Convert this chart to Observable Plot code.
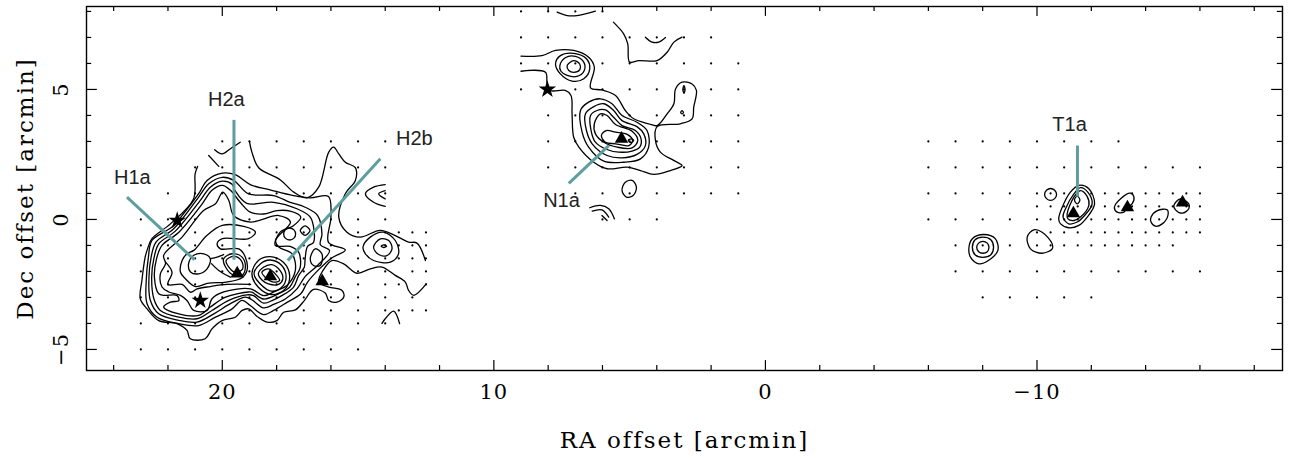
<!DOCTYPE html>
<html><head><meta charset="utf-8">
<style>
html,body{margin:0;padding:0;background:#fff}
[aria-label="x-axis tick label"],[aria-label="y-axis tick label"]{letter-spacing:1px}
[aria-label="x-axis label"],[aria-label="y-axis label"]{letter-spacing:2px;font-size:23px}
</style>
<script src="https://cdn.jsdelivr.net/npm/d3@7"></script>
<script src="https://cdn.jsdelivr.net/npm/@observablehq/plot@0.6"></script>
</head><body><div id="chart"></div>
<script>
// Axis ticks (arcmin)
const xMajor=[20,10,0,-10];
const xMinor=[24,22,18,16,14,12,8,6,4,2,-2,-4,-6,-8,-12,-14,-16,-18];
const yMajor=[5,0,-5];
const yMinor=[8,7,6,4,3,2,1,-1,-2,-3,-4];

// Sampled positions: [dec, [ra...]]
const ints2314=[23,22,21,20,19,18,17,16,15,14];
const tailH=[13.5,13,12.5];
const tHalf=[-10,-10.5,-11,-11.5,-12,-12.5,-13,-13.5,-14,-14.5,-15,-15.5,-16];
const gridRows=[
 [3,[20,19,18,17,16,15,14]],
 [2,[21,20,19,18,17,16,15,14]],
 [1,[22,21,20,19,18,17,16,15,14]],
 [0,ints2314],
 [-0.5,[21,20,19,18,17,16,15,14,...tailH]],
 [-1,[...ints2314,13.5,13,12.5]],
 [-1.5,[22,21,20,19,18,17,16,15,14,...tailH]],
 [-2,[...ints2314,13,12.5]],
 [-2.5,[22,21,20,19,18,17,16,15,14,13.5,12.5]],
 [-3,[...ints2314,13]],
 [-3.5,[19,18,17,16,15,14,...tailH]],
 [-4,ints2314],
 [-5,[23,22,21,20,19,18,17,16,15]],
 [8,[9,8,7,6]],
 [7,[9,8,7,6,5,4,3,2]],
 [6,[9,8,7,6,5,4,3,2,1]],
 [5,[9,8,7,6,5,4,3,2,1]],
 [4,[8,7,6,5,4,3,2,1]],
 [3,[8,7,6,5,4,3,2,1]],
 [2,[8,7,6,5,4,3,2,1]],
 [1,[7,6,5,4,3,2,1]],
 [0,[6,5,4]],
 [3,[-6,-7,-8,-9,-10,-11,-12,-13]],
 [2,[-6,-7,-8,-9,-10,-11,-12,-13,-14,-15,-16]],
 [1,[-6,-7,-8,-9,...tHalf]],
 [0.5,tHalf],
 [0,[-6,-7,-8,-9,...tHalf]],
 [-0.5,tHalf],
 [-1,[-7,-8,-9,-10,-10.5,-11,-11.5,-12,-12.5,-13,-13.5,-14,-14.5,-15]],
 [-2,[-7,-8,-9,-10,-11,-12,-13,-14,-15,-16]],
 [-3,[-8,-9,-10,-11,-12]]
];

// Open contour lines [ra, dec]
const hOuter=[[19,3],[18.91,2.59],[18.66,1.99],[17.86,1.52],[17.37,1.05],[16.88,.83],[16.45,1.24],[16.08,2.59],[15.9,2.78],[15.71,2.52],[15.47,2.2],[15.1,1.99],[15.1,1.5],[15.47,.99],[15.71,.09],[15.41,-.49],[14.92,-.68],[14.18,-.42],[13.63,-.62],[13.14,-.87],[12.83,-.91],[12.52,-1.58]];
const hOuterLow=[[12.49,-2.48],[12.95,-2.92],[13.14,-2.73],[13.26,-2.41],[13.63,-2.15],[14.12,-1.83],[14.55,-1.9],[15.04,-2.07],[15.53,-1.71],[15.96,-1.58],[16.21,-1.83],[16.45,-2.41],[16.08,-2.6],[15.59,-2.73],[15.53,-2.99],[15.78,-3.18],[16.08,-3.12],[16.21,-2.83],[16.64,-2.69],[16.98,-3.12],[17.31,-3.48],[17.74,-3.57],[17.99,-3.89],[18.35,-3.95],[18.72,-3.73],[19.03,-3.44],[19.27,-3.5],[19.52,-3.76],[20.01,-3.89],[20.38,-4.21],[20.63,-4.59],[21.18,-4.59],[21.3,-4.27],[21.67,-4.01],[22.34,-3.89],[22.77,-3.44],[23.02,-3.05],[22.96,-2.35],[22.84,-1.45],[22.77,-1.19],[22.59,-.74],[21.91,-.17],[21.06,.79],[21,1.75],[20.91,2.04]];
const hTopA=[[20.5,2.46],[20.13,2.04]];
const hTopB=[[20.28,2.68],[20.01,2.52],[19.7,2.72],[19.34,2.97]];
const hArcA=[[14,1.34],[14.43,1.24],[14.73,.99],[14.43,.66],[14,.5]];
const hArcB=[[14,1.11],[14.24,.99],[14,.79]];
const hSmall=[[14.12,-4],[14,-3.82],[13.69,-3.53],[13.47,-4.01]];
const hInner=[[22.09,-1.64],[21.85,-2.03],[22,-2.5],[21.48,-2.5],[21.17,-2.8],[20.93,-2.67],[20.44,-2.58],[19.82,-2.5],[18.96,-2.5]];
const hLink=[[20.44,-1.51],[20.19,-1.45],[19.95,-1.35]];
const hLinkB=[[20.4,-1.7],[20.13,-1.96],[19.7,-2.22]];
const nTop=[[7.67,7.97],[7.3,7.84],[6.94,7.84],[6.26,8.01]];
const nRidge=[[5.6,7.59],[5.22,7.14],[5.07,6.75],[5,6.05],[4.66,6.11],[3.99,6.11],[3.62,6.43],[3.37,6.82],[3.07,7.01]];
const nCup=[[4.42,7.01],[4.17,6.82],[3.93,6.82],[3.68,7]];
const nMain=[[9,6.28],[8.23,6.3],[7.73,6.5],[7.06,6.5],[6.51,6.24],[6.3,5.86],[6.44,5.06],[6.02,4.98],[5.52,4.77],[5.16,4.19],[4.85,3.87],[4.3,3.68],[3.99,3.61],[3.62,4.06],[3.37,4.45],[3.31,5.02],[3.07,5.28],[2.7,5.21],[2.54,4.96],[2.64,4.32],[2.7,3.87],[3.13,3.68],[3.99,3.57],[4.05,3.04],[3.87,2.59],[3.38,2.27],[3.07,2.07],[3.5,1.88],[4.11,1.73],[4.6,1.88],[5.09,2.01],[5.83,1.95],[6.32,2.2],[6.87,2.78],[7.06,3.16],[7.12,4.06],[7.16,4.77],[7.37,4.96],[7.92,4.96],[8.04,5.21],[8.1,5.66],[9,5.7]];
const nBotA=[[6.47,.45],[6.08,.54],[5.77,.41],[5.56,.02]];
const nBotB=[[6.38,.32],[6.02,.37],[5.77,.09]];
const nBotC=[[6.02,.15],[5.83,-.04]];

// Closed contour lines [ra, dec]
const hC2=[[22.77,-3.24],[22.8,-2.35],[22.72,-1.45],[22.59,-.81],[21.85,-.29],[21.48,.15],[20.87,.99],[20.56,1.5],[20,1.78],[19.52,1.72],[18.97,1.34],[18.24,1.14],[17.38,.92],[16.76,.83],[16.09,.88],[16,.09],[16.09,-.88],[15.47,-1.17],[15.97,-1.48],[16.46,-1.94],[16.86,-2.41],[17.11,-2.86],[17.6,-3.18],[18.11,-3.5],[18.48,-3.66],[18.97,-3.31],[19.27,-3.11],[19.64,-3.44],[20.25,-3.76],[20.87,-4.08],[21.6,-4.01],[22.4,-3.76]];
const hC3=[[22.65,-3.11],[22.7,-2.22],[22.62,-1.45],[22.44,-.87],[21.79,-.36],[20.87,.86],[20.5,1.37],[20,1.62],[19.58,1.5],[19.03,.98],[18.11,.92],[17.5,.66],[16.95,.47],[16.49,.15],[16.33,-.56],[16.39,-.97],[16.05,-1.2],[16.49,-1.77],[16.95,-2.2],[17.25,-2.67],[17.68,-3.06],[18.11,-3.27],[18.48,-3.4],[18.91,-3.09],[19.15,-2.99],[19.7,-3.24],[20.31,-3.63],[20.93,-3.95],[21.6,-3.88],[22.34,-3.63]];
const hC4=[[22.52,-3.05],[22.6,-2.22],[22.52,-1.51],[22.34,-.94],[21.73,-.45],[20.81,.73],[20.44,1.24],[20,1.47],[19.64,1.35],[19.53,1.11],[19.1,.62],[18.11,.66],[17.25,.41],[16.76,.09],[16.62,-.43],[16.64,-.88],[16.86,-1.04],[16.95,-1.52],[16.98,-1.84],[17.19,-2.16],[17.38,-2.61],[17.81,-2.93],[18.11,-3.09],[18.48,-3.22],[18.85,-2.93],[19.09,-2.9],[19.76,-3.11],[20.38,-3.5],[20.93,-3.82],[21.6,-3.76],[22.28,-3.5]];
const hC5=[[22.34,-2.86],[22.5,-2.22],[22.42,-1.51],[22.22,-1],[21.6,-.49],[20.74,.6],[20.38,1.12],[20,1.31],[19.7,1.12],[19.34,.66],[18.97,.28],[18.48,.21],[17.99,.34],[17.5,.32],[17.11,.09],[17.38,-.24],[17.87,-.49],[18.05,-1],[17.5,-1.04],[17.19,-1.26],[17.13,-1.84],[17.32,-2.22],[17.52,-2.61],[17.93,-2.86],[18.48,-3.06],[18.91,-2.8],[19.03,-2.79],[19.88,-2.99],[20.44,-3.37],[20.87,-3.69],[21.6,-3.63],[22.16,-3.37],[21.91,-3.18],[21.6,-3.12],[21.67,-2.92],[22.16,-2.92]];
const hC6=[[18.96,-2.67],[19.95,-2.79],[20.38,-3.05],[20.56,-3.5],[21.05,-3.5],[21.3,-3.12],[21.54,-2.92],[21.97,-2.79],[22.22,-2.6],[22.28,-2.09],[22.09,-1.7],[22.16,-1.38],[21.48,-.68],[20.68,.35],[20.25,.6],[19.98,1.05],[19.76,.73],[19.58,.15],[18.96,-.1],[17.92,.15],[17.49,-.1],[18.04,-.81],[17.92,-1.06],[17.43,-1.32],[17.31,-1.96],[17.62,-2.54],[18.05,-2.76],[18.48,-2.93]];
const hC7=[[21.05,-1.19],[20.56,-.61],[20,-.23],[19.21,-.27],[18.78,-.49],[19.03,-.74],[20,-.74],[20.19,-.94],[20.07,-1.13],[19.39,-1.13],[19.15,-1.45],[19.09,-1.96],[19.27,-2.24],[19.85,-2.41],[20.5,-2.45],[20.99,-2.58],[21.36,-2.28],[21.54,-2.03],[21.48,-1.58],[21.3,-1.32]];
const hH1=[[21.24,-1.7],[21.05,-1.38],[20.68,-1.32],[20.44,-1.51],[20.56,-1.9],[20.87,-2.09],[21.17,-2.02]];
const hL1=[[19.95,-1.51],[19.64,-1.32],[19.27,-1.45],[19.15,-1.83],[19.27,-2.15],[19.58,-2.15],[19.88,-1.83]];
const hL2=[[19.86,-1.58],[19.58,-1.42],[19.3,-1.58],[19.25,-1.9],[19.52,-2.03],[19.76,-1.83]];
const hR1=[[18.91,-2.09],[18.67,-1.58],[18.24,-1.43],[17.75,-1.65],[17.52,-2.16],[17.68,-2.67],[18.18,-2.89],[18.67,-2.61]];
const hR2=[[18.83,-2.09],[18.6,-1.71],[18.24,-1.56],[17.81,-1.77],[17.65,-2.22],[17.81,-2.61],[18.18,-2.76],[18.6,-2.48]];
const hR3=[[18.67,-2.09],[18.48,-1.84],[18.18,-1.74],[17.87,-1.97],[17.77,-2.29],[17.93,-2.5],[18.3,-2.48],[18.54,-2.33]];
const hR4=[[18.54,-2.03],[18.3,-1.9],[17.99,-2.16],[17.89,-2.35],[18.11,-2.41],[18.42,-2.22]];
const hS1=[[17.3,-.56],[17.36,-.4],[17.52,-.33],[17.68,-.4],[17.74,-.56],[17.68,-.72],[17.52,-.79],[17.36,-.72]];
const hS2=[[16.77,-.43],[16.95,-.25],[17.13,-.43],[16.95,-.61]];
const hS3=[[16.76,-1.52],[16.58,-1.13],[16.33,-1.33],[16.39,-1.77],[16.64,-1.77]];
const hE1=[[14.82,-1.07],[14.55,-.68],[14.06,-.49],[13.63,-.81],[13.51,-1.32],[13.81,-1.64],[14.43,-1.58],[14.73,-1.32]];
const hE2=[[14.43,-1.07],[14.18,-.75],[13.87,-.81],[13.75,-1.13],[13.94,-1.39],[14.24,-1.35]];
const hE3=[[14.15,-1.03],[14.05,-.98],[13.95,-1.03],[14.05,-1.08]];
const nR2=[[6.81,4.19],[6.51,4.51],[6.08,4.64],[5.65,4.45],[5.28,4],[4.73,3.74],[4.36,3.42],[4.3,2.78],[4.6,2.33],[5.22,2.2],[5.95,2.24],[6.51,2.78],[6.75,3.36]];
const nR3=[[6.63,4.06],[6.32,4.34],[5.95,4.45],[5.59,4.19],[5.28,3.8],[4.73,3.57],[4.48,3.29],[4.42,2.84],[4.73,2.5],[5.28,2.37],[5.83,2.46],[6.38,2.91],[6.59,3.42]];
const nR4=[[6.44,4],[6.2,4.19],[5.89,4.21],[5.59,3.93],[5.28,3.61],[4.79,3.42],[4.58,3.1],[4.63,2.78],[4.91,2.63],[5.4,2.59],[5.89,2.71],[6.26,2.97],[6.42,3.42]];
const nR5=[[6.3,3.68],[6.08,4.06],[5.83,4],[5.52,3.65],[4.91,3.39],[4.7,3.04],[4.91,2.75],[5.46,2.78],[5.95,2.97],[6.26,3.29]];
const nR6=[[6.04,3.23],[5.86,3.42],[5.52,3.36],[5.09,3.27],[4.89,3.04],[5.03,2.84],[5.52,2.91],[5.89,2.97]];
const nA=[[7.73,5.98],[7.55,6.3],[7.06,6.39],[6.59,6.18],[6.47,5.79],[6.69,5.41],[7.12,5.32],[7.55,5.6]];
const nB=[[7.57,5.92],[7.37,6.22],[7,6.27],[6.69,6.05],[6.67,5.73],[6.94,5.5],[7.3,5.54],[7.53,5.7]];
const nC=[[7.3,5.92],[7.06,6.11],[6.84,5.98],[6.84,5.75],[7.06,5.66],[7.24,5.73]];
const nLobe1=[[3.04,5],[3,5.15],[2.96,5],[3,4.85]];
const nLobe2=[[3.12,4.12],[3.07,4.18],[3.02,4.12],[3.07,4.06]];
const nE=[[5.28,1.11],[5.16,1.43],[4.91,1.5],[4.75,1.24],[4.87,.92],[5.12,.86]];
const nDot=[[5.05,3.04],[4.95,3.1],[4.85,3.04],[4.95,2.96]];
const tA=[[-7.49,-1.13],[-7.61,-.75],[-8.04,-.58],[-8.47,-.75],[-8.56,-1.19],[-8.29,-1.52],[-7.86,-1.71],[-7.55,-1.45]];
const tB=[[-7.62,-1.07],[-7.72,-.78],[-8,-.68],[-8.3,-.78],[-8.4,-1.07],[-8.3,-1.36],[-8,-1.46],[-7.72,-1.36]];
const tC=[[-7.78,-1.07],[-7.85,-.91],[-8,-.84],[-8.17,-.91],[-8.23,-1.07],[-8.17,-1.24],[-8,-1.3],[-7.85,-1.24]];
const tD=[[-9.64,-.68],[-9.88,-.4],[-10.19,-.49],[-10.56,-.94],[-10.56,-1.13],[-10.19,-1.3],[-9.76,-1.13]];
const tE=[[-10.28,.96],[-10.35,1.12],[-10.5,1.19],[-10.65,1.12],[-10.72,.96],[-10.65,.8],[-10.5,.73],[-10.35,.8]];
const tF=[[-10.8,.02],[-10.93,.47],[-11.23,1.05],[-11.54,1.31],[-11.91,1.18],[-12.12,.6],[-11.85,.09],[-11.54,-.23],[-11.17,-.32],[-10.87,-.17]];
const tG=[[-10.96,.09],[-11.05,.41],[-11.36,.98],[-11.6,1.22],[-11.87,1.05],[-12.03,.6],[-11.75,.15],[-11.48,-.1],[-11.17,-.17]];
const tH=[[-11.11,.22],[-11.36,.86],[-11.6,1.11],[-11.85,.88],[-11.91,.54],[-11.6,.09],[-11.36,-.04],[-11.14,.02]];
const tI=[[-11.38,.75],[-11.48,.9],[-11.58,.75],[-11.48,.6]];
const tJ=[[-12.85,.47],[-13.07,.79],[-13.44,1.01],[-13.57,.86],[-13.5,.6],[-13.32,.47],[-13.2,.28],[-12.95,.28]];
const tK=[[-14.2,.09],[-14.43,.34],[-14.79,.37],[-14.82,.15],[-14.61,-.17],[-14.36,-.26],[-14.2,-.1]];
const tL=[[-15.04,.54],[-15.28,.79],[-15.59,.6],[-15.59,.41],[-15.35,.24],[-15.1,.37]];

// Sources and annotations
const triangleRA=[19.45,18.23,16.32,5.3,-11.34,-13.33,-15.36];
const triangleDec=[-2.08,-2.19,-2.38,3.1,.23,.46,.65];
const starRA=[21.66,20.81,8.03];
const starDec=[-.04,-3.12,5];
const labels=["H1a","H2a","H2b","N1a","T1a"];
const labelRA=[23.31,19.85,12.93,7.51,-11.2];
const labelDec=[1.62,4.62,3.12,.73,3.65];
const leaderFrom=[[23.51,.86],[19.57,3.83],[14.18,2.33],[7.24,1.39],[-11.49,2.84]];
const leaderTo=[[21.03,-1.55],[19.57,-1.55],[17.59,-1.58],[5.77,2.84],[-11.49,.88]];

const table=(paths)=>paths.flatMap((p,id)=>p.map(([ra,dec])=>({id,ra,dec})));
const openLines=table([hOuter,hOuterLow,hTopA,hTopB,hArcA,hArcB,hSmall,hInner,hLink,hLinkB,nTop,nRidge,nCup,nMain,nBotA,nBotB,nBotC]);
const closedLines=table([hC2,hC3,hC4,hC5,hC6,hC7,hH1,hL1,hL2,hR1,hR2,hR3,hR4,hS1,hS2,hS3,hE1,hE2,hE3,nR2,nR3,nR4,nR5,nR6,nA,nB,nC,nLobe1,nLobe2,nE,nDot,tA,tB,tC,tD,tE,tF,tG,tH,tI,tJ,tK,tL]);
const grid=gridRows.flatMap(([dec,ras])=>ras.map(ra=>({ra,dec})));
const decLo=-5.81,decHi=8.19,raLo=25,raHi=-19.04;
const ink="#000",serif="'DejaVu Serif',serif",sans="'Liberation Sans',Arial,sans-serif";
const lineW=1.3;

const plot=Plot.plot({
  width:1296,height:459,
  marginLeft:86,marginRight:14,marginTop:6,marginBottom:89,
  x:{domain:[raLo,raHi],axis:null},
  y:{domain:[decLo,decHi],axis:null},
  marks:[
    Plot.dot(grid,{x:"ra",y:"dec",r:1.1,fill:ink,stroke:"none"}),
    Plot.line(openLines,{x:"ra",y:"dec",z:"id",curve:"catmull-rom",stroke:ink,strokeWidth:lineW}),
    Plot.line(closedLines,{x:"ra",y:"dec",z:"id",curve:"catmull-rom-closed",stroke:ink,strokeWidth:lineW}),
    Plot.link(labels,{x1:(d,i)=>leaderFrom[i][0],y1:(d,i)=>leaderFrom[i][1],x2:(d,i)=>leaderTo[i][0],y2:(d,i)=>leaderTo[i][1],stroke:"#5f9ea0",strokeWidth:3}),
    Plot.dot(triangleRA,{x:d=>d,y:(d,i)=>triangleDec[i],symbol:"triangle",r:5,fill:ink}),
    Plot.dot(starRA,{x:d=>d,y:(d,i)=>starDec[i],symbol:"star",r:5.5,fill:ink}),
    Plot.text(labels,{x:(d,i)=>labelRA[i],y:(d,i)=>labelDec[i],text:d=>d,fontFamily:sans,fontSize:20,fill:"#222"}),
    Plot.ruleX(xMinor,{y1:decLo,y2:decLo+.19,stroke:ink,strokeWidth:1.2}),
    Plot.ruleX(xMinor,{y1:decHi,y2:decHi-.19,stroke:ink,strokeWidth:1.2}),
    Plot.ruleX(xMajor,{y1:decLo,y2:decLo+.38,stroke:ink,strokeWidth:1.2}),
    Plot.ruleX(xMajor,{y1:decHi,y2:decHi-.38,stroke:ink,strokeWidth:1.2}),
    Plot.ruleY(yMinor,{x1:raLo,x2:raLo-.19,stroke:ink,strokeWidth:1.2}),
    Plot.ruleY(yMinor,{x1:raHi,x2:raHi+.19,stroke:ink,strokeWidth:1.2}),
    Plot.ruleY(yMajor,{x1:raLo,x2:raLo-.4,stroke:ink,strokeWidth:1.2}),
    Plot.ruleY(yMajor,{x1:raHi,x2:raHi+.4,stroke:ink,strokeWidth:1.2}),
    Plot.axisX({ticks:xMajor,tickSize:0,tickPadding:14,fontSize:21,fontFamily:serif,label:"RA offset [arcmin]",labelAnchor:"center",labelArrow:"none",labelOffset:77}),
    Plot.axisY({ticks:yMajor,tickSize:0,tickPadding:19,tickRotate:-90,fontSize:21,fontFamily:serif,label:"Dec offset [arcmin]",labelAnchor:"center",labelArrow:"none",labelOffset:70}),
    Plot.frame({stroke:ink,strokeWidth:1.4})
  ],
  style:{background:"#fff",fontFamily:serif}
});
document.getElementById("chart").append(plot);
</script></body></html>
